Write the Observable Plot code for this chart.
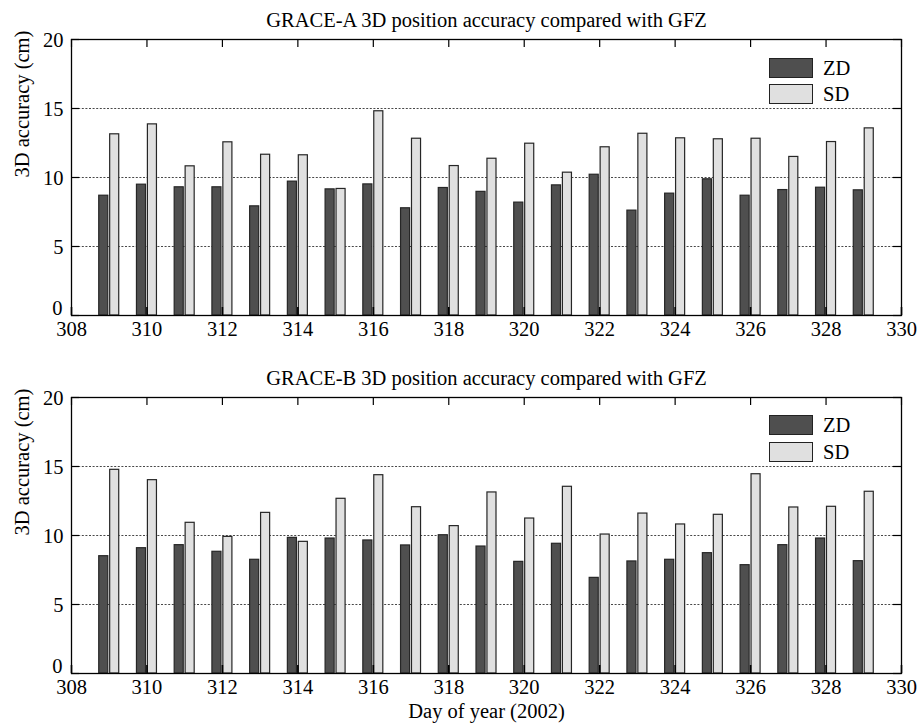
<!DOCTYPE html>
<html>
<head>
<meta charset="utf-8">
<script src="https://cdn.jsdelivr.net/npm/d3@7"></script>
<script src="https://cdn.jsdelivr.net/npm/@observablehq/plot@0.6"></script>
<style>
  body { margin: 0; background: #fff; }
  #wrap { position: relative; width: 918px; height: 728px; overflow: hidden; background: #fff;
          font-family: "Liberation Serif", "Times New Roman", serif; color: #000; }
  .panel { position: absolute; left: 0; }
  .sw { position: absolute; left: 769px; width: 44px; height: 20px; box-sizing: border-box; border: 1.5px solid #222; }
  .lt { position: absolute; left: 823px; font-size: 20.5px; line-height: 20px; }
</style>
</head>
<body>
<div id="wrap"></div>
<script>
// ---- data ----
const days = [309, 310, 311, 312, 313, 314, 315, 316, 317, 318, 319, 320, 321, 322, 323, 324, 325, 326, 327, 328, 329];
const graceA_ZD = [8.68, 9.48, 9.29, 9.29, 7.91, 9.70, 9.14, 9.50, 7.77, 9.24, 8.96, 8.18, 9.43, 10.20, 7.60, 8.83, 9.87, 8.68, 9.09, 9.26, 9.07];
const graceA_SD = [13.13, 13.85, 10.81, 12.55, 11.65, 11.61, 9.17, 14.80, 12.81, 10.83, 11.36, 12.45, 10.35, 12.19, 13.17, 12.84, 12.77, 12.81, 11.49, 12.57, 13.56];
const graceB_ZD = [8.50, 9.08, 9.30, 8.82, 8.24, 9.83, 9.78, 9.64, 9.28, 10.02, 9.20, 8.09, 9.40, 6.93, 8.12, 8.24, 8.72, 7.85, 9.30, 9.78, 8.14];
const graceB_SD = [14.76, 14.01, 10.92, 9.90, 11.64, 9.54, 12.66, 14.37, 12.05, 10.68, 13.12, 11.23, 13.53, 10.07, 11.59, 10.80, 11.50, 14.44, 12.03, 12.08, 13.17];
const xTicks = [308, 310, 312, 314, 316, 318, 320, 322, 324, 326, 328, 330];
const yTicks = [0, 5, 10, 15, 20];
const gridValues = [5, 10, 15];
const seriesNames = ["ZD", "SD"];
const seriesFills = ["#4f4f4f", "#e0e0e0"];
const titleA = "GRACE-A 3D position accuracy compared with GFZ";
const titleB = "GRACE-B 3D position accuracy compared with GFZ";
const yLabel = "3D accuracy (cm)";
const xLabel = "Day of year (2002)";

// ---- drawing ----
const W = 918, ML = 71, MR = 17;
const FONT = "'Liberation Serif', 'Times New Roman', serif";
const barOffsets = {ZD: [-0.265, -0.025], SD: [0.025, 0.265]};

function panel({title, zd, sd, height, marginTop, marginBottom, showXLabel}) {
  const rows = days.flatMap((d, i) => [
    {day: d, series: "ZD", value: zd[i]},
    {day: d, series: "SD", value: sd[i]}
  ]);
  const plotH = height - marginTop - marginBottom;
  const plotW = W - ML - MR;
  const marks = [
    Plot.ruleY(gridValues, {stroke: "#333", strokeWidth: 0.9, strokeDasharray: "2,1.6"}),
    Plot.rectY(rows, {
      x1: d => d.day + barOffsets[d.series][0],
      x2: d => d.day + barOffsets[d.series][1],
      y1: 0, y2: "value",
      fill: "series", stroke: "#262626", strokeWidth: 1.2
    }),
    Plot.axisX(xTicks, {anchor: "bottom", tickSize: 0, tickPadding: 6, fontSize: 20.5, label: null, tickFormat: d => String(d)}),
    Plot.axisY(yTicks.filter(v => v === 0), {anchor: "left", tickSize: 0, tickPadding: 9, fontSize: 20.5, dy: -7, label: null, tickFormat: d => String(d)}),
    Plot.axisY(yTicks.filter(v => v !== 0), {anchor: "left", tickSize: 0, tickPadding: 8, fontSize: 20.5, dy: 1, label: null, tickFormat: d => String(d)}),
    Plot.tickX(xTicks, {x: d => d, insetTop: plotH - 8, stroke: "#000", strokeWidth: 1.6}),
    Plot.tickX(xTicks, {x: d => d, insetBottom: plotH - 8, stroke: "#000", strokeWidth: 1.2}),
    Plot.tickY(yTicks, {y: d => d, insetRight: plotW - 8, stroke: "#000", strokeWidth: 1.2}),
    Plot.tickY(yTicks, {y: d => d, insetLeft: plotW - 8, stroke: "#000", strokeWidth: 1.2}),
    Plot.frame({stroke: "#000", strokeWidth: 1.3}),
    Plot.text([title], {frameAnchor: "top", dy: -19, lineAnchor: "middle", fontSize: 20.5, fill: "#000"}),
    Plot.text([yLabel], {frameAnchor: "left", rotate: -90, dx: -49, lineAnchor: "middle", fontSize: 20.5, fill: "#000"})
  ];
  if (showXLabel) {
    marks.push(Plot.text([xLabel], {frameAnchor: "bottom", dy: 37.5, lineAnchor: "middle", fontSize: 20.5, fill: "#000"}));
  }
  return Plot.plot({
    width: W, height, marginTop, marginBottom, marginLeft: ML, marginRight: MR,
    style: {fontFamily: FONT, fontSize: "20.5px", color: "#000", background: "#fff", overflow: "visible"},
    x: {type: "linear", domain: [308, 330]},
    y: {type: "linear", domain: [0, 20]},
    color: {type: "ordinal", domain: seriesNames, range: seriesFills},
    marks
  });
}

function legend(parent, topZD, topSD) {
  seriesNames.forEach((name, i) => {
    const top = i === 0 ? topZD : topSD;
    const sw = document.createElement("div");
    sw.className = "sw";
    sw.style.top = top + "px";
    sw.style.background = seriesFills[i];
    parent.appendChild(sw);
    const t = document.createElement("div");
    t.className = "lt";
    t.style.top = top + "px";
    t.textContent = name;
    parent.appendChild(t);
  });
}

const wrap = document.getElementById("wrap");
const pA = panel({title: titleA, zd: graceA_ZD, sd: graceA_SD, height: 340, marginTop: 39, marginBottom: 25, showXLabel: false});
pA.classList.add("panel");
pA.style.top = "0px";
wrap.appendChild(pA);
const pB = panel({title: titleB, zd: graceB_ZD, sd: graceB_SD, height: 388, marginTop: 57, marginBottom: 55, showXLabel: true});
pB.classList.add("panel");
pB.style.top = "340px";
wrap.appendChild(pB);
legend(wrap, 58, 84);
legend(wrap, 415, 442);
</script>
</body>
</html>
